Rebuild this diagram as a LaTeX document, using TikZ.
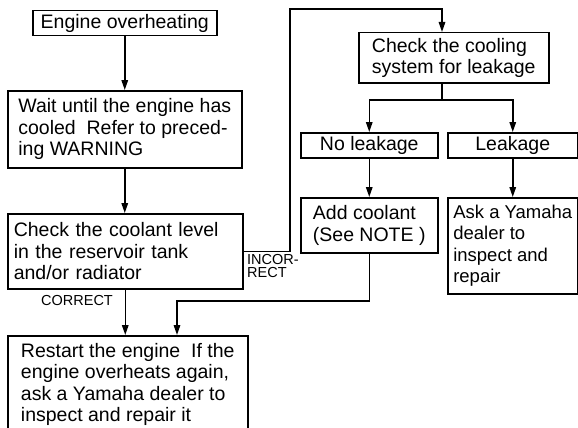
\documentclass[tikz,border=0pt]{standalone}
\usepackage{fontspec}
\setmainfont{Liberation Sans}
\usepackage{tikz}
\usetikzlibrary{arrows.meta,positioning,calc}
\newcommand{\boxfont}{\fontsize{19.5}{21.5}\selectfont}
\newcommand{\tagfont}{\fontsize{14.5}{13.5}\selectfont}
\tikzset{
  box/.style={draw, line width=1.5pt, anchor=north west, inner xsep=4pt, inner ysep=0pt, align=left, font=\boxfont},
  arr/.style={line width=1.5pt, -{Triangle[length=10pt,width=6.5pt]}},
  link/.style={line width=1.5pt},
  tag/.style={font=\tagfont, inner sep=0pt}
}

\begin{document}
\begin{tikzpicture}[x=1pt,y=-1pt]
\useasboundingbox (0,0) rectangle (578,428);
% left column
\node[box, minimum width=184pt, minimum height=25pt] (over) at (32,10) {Engine overheating};
\node[box, minimum width=234pt, minimum height=77pt] (wait) at (7,90) {Wait until the engine has\\cooled\ \ Refer to preced-\\ing WARNING};
\node[box, inner xsep=6pt, text width=223pt, minimum width=235pt, minimum height=75pt] (level) at (7,213) {Check the coolant level\\in the reservoir tank\\and/or radiator};
\node[box, minimum width=240pt, minimum height=97pt] (restart) at (7,335) {Restart the engine\ \ If the\\engine overheats again,\\ask a Yamaha dealer to\\inspect and repair it};
% right column
\node[box, minimum width=190pt, minimum height=50pt] (cool) at (358,32) {Check the cooling\\system for leakage};
\node[box, minimum width=137pt, minimum height=25pt] (noleak) at (300,132) {No leakage};
\node[box, minimum width=130pt, minimum height=25pt] (leak) at (447,132) {Leakage};
\node[box, minimum width=137pt, minimum height=55pt] (add) at (300,197) {Add coolant\\(See NOTE )};
\node[box, font=\fontsize{18.5}{21.5}\selectfont, minimum width=130pt, minimum height=96pt] (ask) at (447,197) {Ask a Yamaha\\dealer to\\inspect and\\repair};
% labels
\node[tag] (ok) at (77,301) {CORRECT};
\node[tag, anchor=north west, align=left] (nok) at (247,254) {INCOR-\\RECT};
% connectors
\coordinate (up) at (290,9);
\coordinate (fork) at (442,100);
\coordinate (back) at (177,301);
\draw[arr] (over.south) -- (over.south |- wait.north);
\draw[arr] (wait.south) -- (wait.south |- level.north);
\draw[arr] (level.south) -- (level.south |- restart.north);
\draw[arr] (level.east) -| (up) -| (fork |- cool.north);
\draw[link] (fork |- cool.south) -- (fork);
\draw[arr] (fork) -| (noleak.north);
\draw[arr] (fork) -| (leak.north);
\draw[arr] (noleak.south) -- (add.north);
\draw[arr] (leak.south) -- (ask.north);
\draw[arr] (add.south) |- (back) -- (back |- restart.north);
\end{tikzpicture}
\end{document}
